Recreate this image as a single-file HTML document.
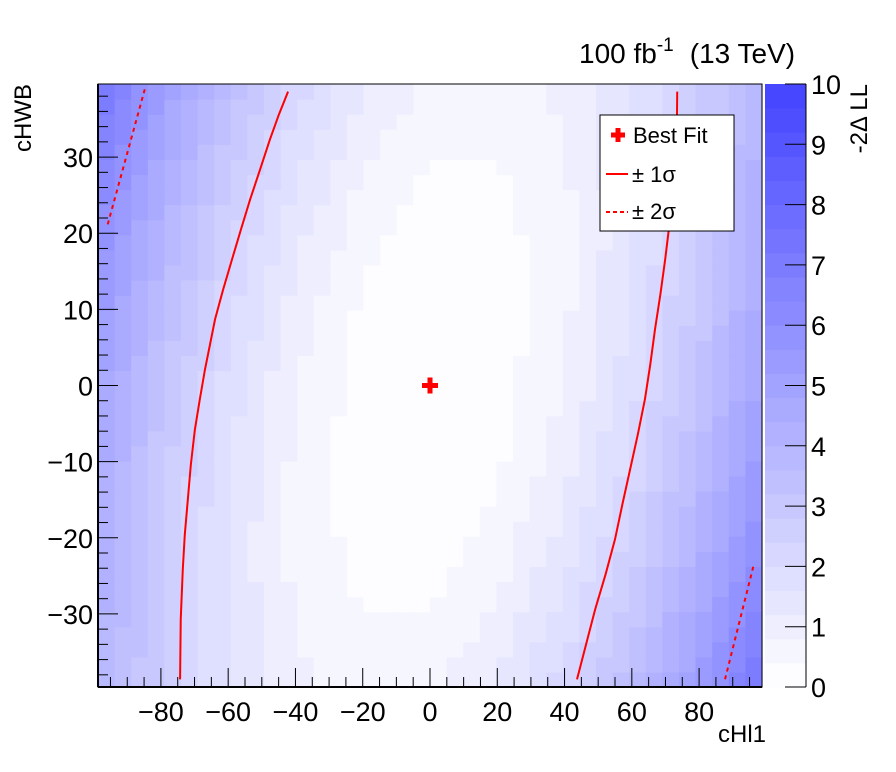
<!DOCTYPE html>
<html><head><meta charset="utf-8"><style>
html,body{margin:0;padding:0;background:#fff;width:896px;height:772px;overflow:hidden}
svg{display:block;font-family:"Liberation Sans",sans-serif}
</style></head><body>
<svg id="c" width="896" height="772" viewBox="0 0 896 772">
<g id="cells"></g>
<g id="cbar"></g>
<g id="curves"></g>
<g id="axes"></g>
<text x="579" y="63" font-size="28">100 fb<tspan font-size="19" dy="-12">-1</tspan><tspan dy="12" dx="16">(13 TeV)</tspan></text>
<text x="766" y="742" font-size="24" text-anchor="end">cHl1</text>
<text transform="translate(31,84) rotate(-90)" font-size="24" text-anchor="end">cHWB</text>
<text transform="translate(867,84) rotate(-90)" font-size="24" text-anchor="end">-2Δ LL</text>
<g>
<rect x="600" y="115" width="134" height="116" fill="#fff" stroke="#000" stroke-width="1"/>
<path d="M611 135h14M618 128v14" stroke="#f00" stroke-width="5"/>
<text x="633" y="143" font-size="22">Best Fit</text>
<line x1="606" y1="174" x2="628" y2="174" stroke="#f00" stroke-width="2"/>
<text x="632" y="182" font-size="22">± 1σ</text>
<line x1="606" y1="212" x2="628" y2="212" stroke="#f00" stroke-width="2" stroke-dasharray="4,3"/>
<text x="632" y="219" font-size="22">± 2σ</text>
</g>
</svg>
<script>
// coarse grid of -2ΔLL values
const gridX = [-100,-80,-60,-40,-20,0,20,40,60,80,100];
const gridY = [40,30,20,10,0,-10,-20,-30,-40];
const row40 = [7.48,5.32,3.57,2.22,1.28,0.75,0.63,0.91,1.61,2.71,4.22];
const row30 = [6.75,4.67,2.99,1.73,0.87,0.42,0.38,0.75,1.53,2.71,4.30];
const row20 = [6.11,4.11,2.52,1.34,0.56,0.19,0.23,0.68,1.54,2.80,4.48];
const row10 = [5.56,3.64,2.13,1.03,0.33,0.05,0.17,0.70,1.64,2.99,4.74];
const row0  = [5.10,3.26,1.84,0.82,0.20,0.00,0.20,0.82,1.84,3.26,5.10];
const rowM10 = [4.74,2.99,1.64,0.70,0.17,0.05,0.33,1.03,2.13,3.64,5.56];
const rowM20 = [4.48,2.80,1.54,0.68,0.23,0.19,0.56,1.34,2.52,4.11,6.11];
const rowM30 = [4.30,2.71,1.53,0.75,0.38,0.42,0.87,1.73,2.99,4.67,6.75];
const rowM40 = [4.22,2.71,1.61,0.91,0.63,0.75,1.28,2.22,3.57,5.32,7.48];
const grid = [row40,row30,row20,row10,row0,rowM10,rowM20,rowM30,rowM40];
const sig1LeftX = [-42.2,-45.0,-47.6,-50.5,-53.5,-56.2,-58.9,-61.5,-63.9,-66.9,-68.5,-69.9,-71.1,-72.0,-72.9,-73.5,-74.1,-74.3];
const sig1LeftY = [38.6,35.5,32.3,28.4,24.4,20.5,16.5,12.6,8.7,2.1,-2.0,-5.8,-10.4,-15.0,-19.6,-24.2,-30.7,-38.6];
const sig1RightX = [73.5,73.4,73.2,72.6,72.0,71.0,69.9,68.5,66.9,65.5,63.9,61.8,59.5,57.2,55.0,52.2,49.1,46.4,43.7];
const sig1RightY = [38.6,34.0,30.0,27.0,24.4,20.5,16.5,12.0,7.4,2.8,-1.8,-6.4,-11.0,-15.6,-20.2,-24.8,-29.4,-34.0,-38.6];
const sig2LeftX = [-84.8,-96.1];
const sig2LeftY = [38.9,20.7];
const sig2RightX = [96.1,87.7];
const sig2RightY = [-23.8,-38.6];
const bestFit = [0,0];
const xTicks = [-80,-60,-40,-20,0,20,40,60,80];
const yTicks = [-30,-20,-10,0,10,20,30];
const zTicks = [0,1,2,3,4,5,6,7,8,9,10];

const NS="http://www.w3.org/2000/svg";
const L=98,R=762,T=84,B=687, XMIN=-98.7,XMAX=98.7,YMIN=-39.6,YMAX=39.6;
const sx=v=>L+(v-XMIN)/(XMAX-XMIN)*(R-L);
const sy=v=>B-(v-YMIN)/(YMAX-YMIN)*(B-T);
const CT=84,CB=687,CL=765,CR=806;
const sz=v=>CB-v/10*(CB-CT);
function col(v){v=Math.max(0,Math.min(10,Math.floor(v/0.4)*0.4+0.1));const c=Math.round(255-v/10*190);return `rgb(${c},${c},255)`;}
function mk(tag,attrs,parent){const e=document.createElementNS(NS,tag);for(const k in attrs)e.setAttribute(k,attrs[k]);parent.appendChild(e);return e;}
function val(x,y){
  let fx=(x-gridX[0])/20; fx=Math.max(0,Math.min(gridX.length-1.0001,fx));
  let fy=(gridY[0]-y)/10; fy=Math.max(0,Math.min(gridY.length-1.0001,fy));
  const i=Math.floor(fx),j=Math.floor(fy),a=fx-i,b=fy-j;
  return grid[j][i]*(1-a)*(1-b)+grid[j][i+1]*a*(1-b)+grid[j+1][i]*(1-a)*b+grid[j+1][i+1]*a*b;
}
const cells=document.getElementById('cells');
const NX=40,NY=40,dx=(XMAX-XMIN)/NX,dy=(YMAX-YMIN)/NY;
for(let i=0;i<NX;i++)for(let j=0;j<NY;j++){
  const x0=XMIN+i*dx,y0=YMIN+j*dy;
  const r=mk('rect',{x:sx(x0),y:sy(y0+dy),width:sx(x0+dx)-sx(x0)+0.6,height:sy(y0)-sy(y0+dy)+0.6,fill:col(val(x0+dx/2,y0+dy/2))},cells);
  
  
}
const cb=document.getElementById('cbar');
for(let k=0;k<25;k++){
  const v0=k*0.4;
  const r=mk('rect',{x:CL,y:sz(v0+0.4),width:CR-CL,height:sz(v0)-sz(v0+0.4)+0.5,fill:col(v0+0.2)},cb);
  
  
}
mk('line',{x1:CR,y1:CT,x2:CR,y2:CB,stroke:'#000','stroke-width':1},cb);
zTicks.forEach(v=>{
  mk('line',{x1:CR-21,y1:sz(v),x2:CR,y2:sz(v),stroke:'#000'},cb);
  const t=mk('text',{x:CR+5,y:sz(v)+10,'font-size':27},cb);t.textContent=v;
  
  
});

const cv=document.getElementById('curves');
function curve(xs,ys,dash,name){
  const p=mk('polyline',{points:xs.map((x,i)=>sx(x)+','+sy(ys[i])).join(' '),fill:'none',stroke:'#f00','stroke-width':2},cv);
  if(dash)p.setAttribute('stroke-dasharray','4,4');
  
  
}
curve(sig1LeftX,sig1LeftY,false,'contour-1sigma-left');
curve(sig1RightX,sig1RightY,false,'contour-1sigma-right');
curve(sig2LeftX,sig2LeftY,true,'contour-2sigma-left');
curve(sig2RightX,sig2RightY,true,'contour-2sigma-right');
const bx=sx(bestFit[0]),by=sy(bestFit[1]);
const bf=mk('path',{d:`M${bx-8} ${by}h16M${bx} ${by-8}v16`,stroke:'#f00','stroke-width':5},cv);



const ax=document.getElementById('axes');
mk('rect',{x:L,y:T,width:R-L,height:B-T,fill:'none',stroke:'#000','stroke-width':1},ax);
mk('line',{x1:L,y1:B,x2:R,y2:B,stroke:'#000','stroke-width':2},ax);
mk('line',{x1:L,y1:T,x2:L,y2:B,stroke:'#000','stroke-width':2},ax);
for(let v=-95;v<=95;v+=5){
  const major=v%20===0;
  mk('line',{x1:sx(v),y1:B,x2:sx(v),y2:B-(major?19:10),stroke:'#000'},ax);
}
xTicks.forEach(v=>{
  const t=mk('text',{x:sx(v),y:B+34,'font-size':27,'text-anchor':'middle'},ax);
  t.textContent=v<0?'−'+(-v):v;
  
  
});
for(let v=-38;v<=38;v+=2){
  const major=v%10===0;
  mk('line',{x1:L,y1:sy(v),x2:L+(major?20:10),y2:sy(v),stroke:'#000'},ax);
}
yTicks.forEach(v=>{
  const t=mk('text',{x:L-5,y:sy(v)+10,'font-size':27,'text-anchor':'end'},ax);
  t.textContent=v<0?'−'+(-v):v;
  
  
});
</script>
</body></html>
